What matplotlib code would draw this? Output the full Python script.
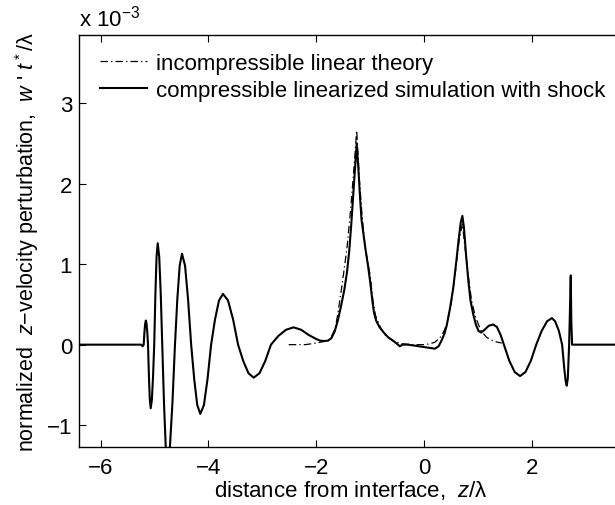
import matplotlib
matplotlib.use("Agg")
import matplotlib.pyplot as plt

plt.rcParams['font.family'] = ['Liberation Sans', 'DejaVu Sans']
plt.rcParams['mathtext.fontset'] = 'custom'
plt.rcParams['mathtext.rm'] = 'Liberation Sans'
plt.rcParams['mathtext.it'] = 'Liberation Sans:italic'
plt.rcParams['mathtext.bf'] = 'Liberation Sans:bold'

# compressible linearized simulation with shock (values in units of 1e-3)
sim_z = [-6.4, -5.245, -5.22, -5.20, -5.187, -5.173, -5.16, -5.147, -5.133, -5.12,
         -5.103, -5.087, -5.07, -5.048, -5.027, -5.005,
         -4.983, -4.962, -4.94, -4.912, -4.884, -4.856,
         -4.824, -4.792, -4.76, -4.713, -4.667, -4.62,
         -4.577, -4.533, -4.49, -4.433, -4.377, -4.32,
         -4.263, -4.207, -4.15, -4.083, -4.017, -3.95,
         -3.877, -3.803, -3.73, -3.637, -3.543, -3.45,
         -3.353, -3.257, -3.16, -3.053, -2.947, -2.84,
         -2.70, -2.56, -2.42, -2.28, -2.14, -2.0, -1.93, -1.85, -1.78, -1.72,
         -1.66, -1.6, -1.54, -1.48, -1.43, -1.39, -1.35, -1.31, -1.28, -1.25,
         -1.22, -1.19, -1.16, -1.13, -1.09, -1.04, -1.0, -0.96, -0.93, -0.89,
         -0.83, -0.76, -0.68, -0.6, -0.52, -0.45, -0.4, -0.3, -0.2, -0.1, 0.0,
         0.1, 0.2, 0.27, 0.33, 0.38, 0.42, 0.48, 0.54, 0.6, 0.64, 0.68, 0.71,
         0.74, 0.78, 0.82, 0.86, 0.91, 0.96, 1.01, 1.06, 1.13, 1.2, 1.28, 1.35,
         1.42, 1.48, 1.58, 1.68, 1.78, 1.88, 1.98, 2.08, 2.18, 2.28, 2.37, 2.43,
         2.50, 2.56, 2.60, 2.625, 2.645, 2.665, 2.69, 2.71, 2.72, 2.73, 2.745, 3.8]
sim_w = [0.0, 0.0, -0.02, 0.0, 0.15, 0.26, 0.30, 0.26, 0.15, 0.0,
         -0.40, -0.68, -0.79, -0.68, -0.40, 0.0,
         0.63, 1.09, 1.26, 1.09, 0.63, 0.0,
         -0.72, -1.26, -1.45, -1.26, -0.72, 0.0,
         0.56, 0.98, 1.13, 0.98, 0.56, 0.0,
         -0.43, -0.75, -0.86, -0.75, -0.43, 0.0,
         0.315, 0.55, 0.63, 0.55, 0.315, 0.0,
         -0.205, -0.355, -0.41, -0.355, -0.205, 0.0,
         0.11, 0.185, 0.215, 0.185, 0.12, 0.07, 0.05, 0.045, 0.05, 0.08,
         0.16, 0.3, 0.48, 0.68, 0.9, 1.15, 1.5, 1.9, 2.2, 2.5,
         2.2, 1.85, 1.55, 1.4, 1.2, 0.98, 0.78, 0.55, 0.4, 0.3,
         0.22, 0.16, 0.1, 0.06, 0.02, -0.02, 0.0, 0.0, -0.01, -0.02, -0.03,
         -0.04, -0.05, -0.02, 0.06, 0.14, 0.24, 0.45, 0.7, 1.05, 1.3, 1.52, 1.60,
         1.45, 1.1, 0.8, 0.55, 0.38, 0.25, 0.17, 0.15, 0.19, 0.235, 0.25, 0.22,
         0.12, 0.0, -0.2, -0.34, -0.39, -0.34, -0.2, 0.0, 0.17, 0.29, 0.33, 0.29,
         0.17, 0.0, -0.3, -0.45, -0.51, -0.42, 0.0, 0.6, 0.86, 0.3, 0.0, 0.0]

# incompressible linear theory (values in units of 1e-3)
lin_z = [-2.51, -2.2, -2.0, -1.85, -1.74, -1.65, -1.6, -1.52, -1.43, -1.36, -1.3,
         -1.25, -1.2, -1.15, -1.09, -1.0, -0.95, -0.9, -0.8, -0.7, -0.55, -0.4,
         -0.2, 0.0, 0.1, 0.2, 0.33, 0.42, 0.5, 0.58, 0.65, 0.71, 0.76, 0.82,
         0.88, 0.95, 1.05, 1.16, 1.3, 1.44]
lin_w = [0.0, 0.0, 0.02, 0.04, 0.07, 0.2, 0.38, 0.75, 1.2, 1.7, 2.2,
         2.66, 2.05, 1.6, 1.19, 0.86, 0.55, 0.36, 0.2, 0.1, 0.04, 0.01,
         0.0, 0.0, 0.01, 0.03, 0.11, 0.25, 0.5, 0.9, 1.3, 1.50, 1.2, 0.85,
         0.55, 0.35, 0.18, 0.09, 0.04, 0.02]

xticks = [-6, -4, -2, 0, 2]
yticks = [-1, 0, 1, 2, 3]

FS = 16

fig = plt.figure(figsize=(6.15, 5.06), dpi=100)
ax = fig.add_axes([79/615, (506-448.3)/506, 544.6/615, 412.6/506])

ax.plot(lin_z, lin_w, color='black', lw=0.9, linestyle=(0, (6, 2.5, 1, 2.5)),
        label='incompressible linear theory')
ax.plot(sim_z, sim_w, color='black', lw=1.5,
        label='compressible linearized simulation with shock')

ax.set_xlim(-6.4, 3.7)
ax.set_ylim(-1.275, 3.85)
ax.set_xticks(xticks)
ax.set_yticks(yticks)
ax.set_xticklabels([str(t).replace('-', '\u2212') for t in xticks])
ax.set_yticklabels([str(t).replace('-', '\u2212') for t in yticks])
ax.tick_params(direction='in', length=5, width=0.8, top=True, right=True,
               labelsize=FS, colors='black')
ax.tick_params(axis='x', pad=7)
ax.tick_params(axis='y', pad=5)
for s in ax.spines.values():
    s.set_linewidth(1.0)

ax.set_xlabel(r'distance from interface,  $\it{z}$/λ', fontsize=FS, labelpad=0)
ax.set_ylabel("normalized  $\\it{z}$\u2212velocity perturbation,  $\\it{w}$ '$\\ \\it{t}^*$/λ",
              fontsize=15.5, labelpad=4)

ax.text(0.0, 1.01, r'x 10$^{-3}$', transform=ax.transAxes, fontsize=FS,
        ha='left', va='bottom')

leg = ax.legend(loc='upper left', frameon=False, fontsize=FS, handlelength=2.1,
                handletextpad=0.4, labelspacing=0.26, borderaxespad=0.0,
                borderpad=0.0, bbox_to_anchor=(0.0386, 0.955))

fig.savefig('out.png', dpi=100)
